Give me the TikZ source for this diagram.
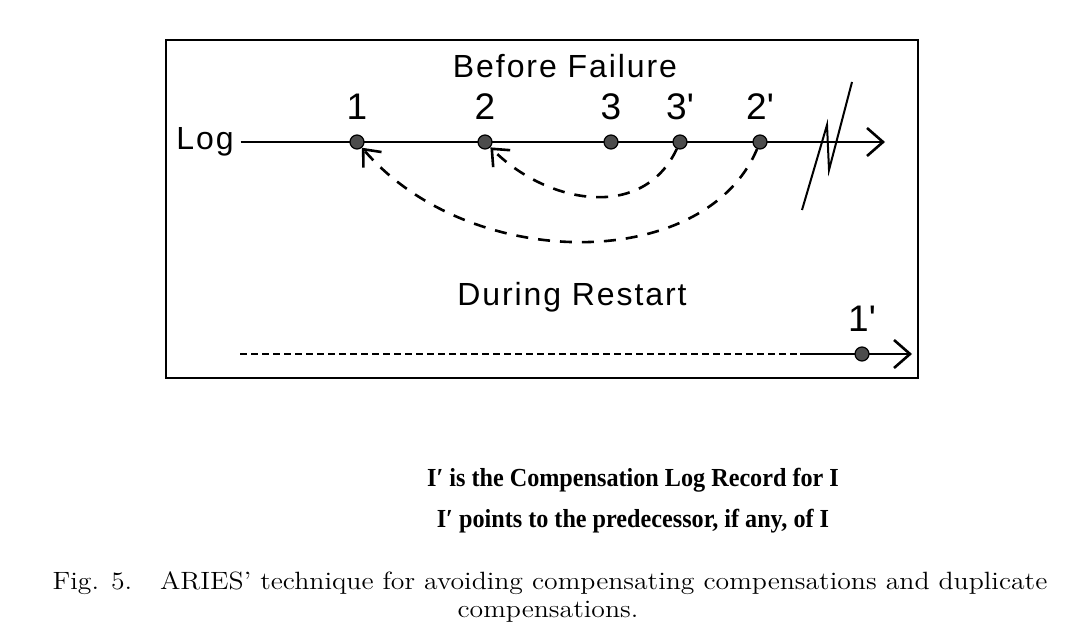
\documentclass[tikz,border=0pt]{standalone}
\usepackage{fontspec}
\usetikzlibrary{arrows.meta,positioning}
\newfontfamily\figsans[LetterSpace=6]{Liberation Sans}
\newfontfamily\notefont{Liberation Serif}

\begin{document}
\begin{tikzpicture}[x=0.5pt,y=-0.5pt,
	rec/.style={circle,fill=black!70,draw=black,line width=0.6pt,inner sep=0pt,minimum size=7pt},
	lbl/.style={font=\figsans\fontsize{16}{18}\selectfont},
	num/.style={font=\figsans\fontsize{18.5}{20}\selectfont,inner sep=2pt},
	back/.style={dash pattern=on 6pt off 5pt,line width=1.3pt,-{Straight Barb[length=7pt,width=12pt]}},
	note/.style={font=\notefont\bfseries\fontsize{13}{15}\selectfont},
	capt/.style={font=\fontsize{12.5}{14}\selectfont}]
	\useasboundingbox (0,0) rectangle (1080,640);
	\draw[line width=0.7pt] (166,40) rectangle (918,378);
	\node (bf) [lbl] at (565,66) {Before Failure};
	%
	\node (log) [lbl] at (205,142) {Log};
	\coordinate (logend) at (885,142);
	\draw[line width=1.3pt,-{Straight Barb[length=8pt,width=14pt]}] (log.east) -- (logend);
	\node (p1) [rec] at (357,142) {};
	\node (p2) [rec] at (485,142) {};
	\node (p3) [rec] at (611,142) {};
	\node (p3c) [rec] at (680,142) {};
	\node (p2c) [rec] at (760,142) {};
	\node (l1) [num, above=5pt of p1] {1};
	\node (l2) [num, above=5pt of p2] {2};
	\node (l3) [num, above=5pt of p3] {3};
	\node (l3c) [num, above=5pt of p3c] {3\textquotesingle};
	\node (l2c) [num, above=5pt of p2c] {2\textquotesingle};
	%
	\draw[back] (p3c) to[out=-115,in=-45,looseness=1.1] (p2);
	\draw[back] (p2c) .. controls (705,273) and (470,273) .. (p1);
	% crash
	\draw[line width=1pt] (802,210) -- (827,125) -- (829,170) -- (852,82);
	%
	\node (dr) [lbl] at (572,297) {During Restart};
	\coordinate (rs) at (240,354);
	\coordinate (sw) at (800,354);
	\coordinate (re) at (912,354);
	\draw[line width=0.8pt,dash pattern=on 3.5pt off 2pt] (rs) -- (sw);
	\draw[line width=1.3pt,-{Straight Barb[length=8pt,width=14pt]}] (sw) -- (re);
	\node (p1c) [rec] at (862,354) {};
	\node (l1c) [num, above=5pt of p1c] {1\textquotesingle};
	%
	\node (n1) [note] at (633,480) {\scalebox{0.93}[1]{I′ is the Compensation Log Record for I}};
	\node (n2) [note] at (633,521) {\scalebox{0.93}[1]{I′ points to the predecessor, if any, of I}};
	\node (c1) [capt] at (550,583) {\scalebox{1.11}[1]{Fig. 5.\hspace{1em}ARIES’ technique for avoiding compensating compensations and duplicate}};
	\node (c2) [capt] at (548,612) {\scalebox{1.11}[1]{compensations.}};
\end{tikzpicture}
\end{document}
